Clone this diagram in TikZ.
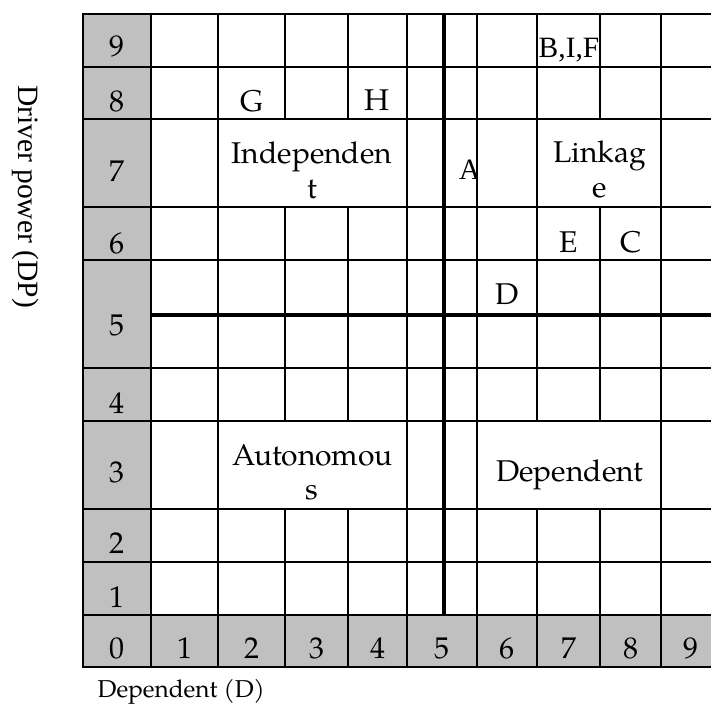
\documentclass[tikz,border=0pt]{standalone}
\usepackage{fontspec}
\newfontfamily\timesf{Liberation Serif}
\newfontfamily\palf{texgyrepagella}[Extension=.otf, UprightFont=*-regular]
\definecolor{cellgray}{RGB}{192,192,192}
\tikzset{
  gridline/.style={line width=2pt, line cap=rect},
  boldline/.style={line width=3.8pt},
  txt/.style={font=\palf\fontsize{30}{35}\selectfont, inner sep=0pt, anchor=base},
  tms/.style={font=\timesf\fontsize{29.5}{34}\selectfont, inner sep=0pt, anchor=base},
  axislabel/.style={inner sep=0pt, anchor=base}
}
\begin{document}
\begin{tikzpicture}[x=1pt,y=-1pt]
\useasboundingbox (0,0) rectangle (711,711);
\clip (0,0) rectangle (711,711);
% gray header cells
\fill[cellgray] (83.3,14) rectangle (151,666.7);
\fill[cellgray] (83.3,615) rectangle (720,666.7);
% row numbers
\foreach \n/\y in {9/56.5,8/112,7/182,6/253,5/335,4/413,3/482,2/553,1/607}
  \node[txt] (r\n) at (117,\y) {\n};
% column numbers
\foreach \n/\x in {0/117,1/184.5,2/251.5,3/316.5,4/377.5,5/442,6/507,7/568.5,8/630.5,9/690.5}
  \node[txt] (c\n) at (\x,658) {\n};
% cell texts
\node[tms, anchor=base west] (bif) at (538.5,58) {B,I,F};
\node[txt] (g) at (251.5,112) {G};
\node[txt] (h) at (377,111) {H};
\node[txt] (ind1) at (312,163.3) {Independen};
\node[txt] (ind2) at (312,199) {t};
\begin{scope}
  \clip (444,119) rectangle (476.5,207.3);
  \node[tms, anchor=base west] (a) at (459,180) {A};
\end{scope}
\node[txt] (lnk1) at (599.5,163) {Linkag};
\node[txt] (lnk2) at (600,198) {e};
\node[txt] (e) at (569,252) {E};
\node[txt] (c) at (631,252) {C};
\node[txt] (d) at (507.5,304) {D};
\node[txt] (aut1) at (312.5,465) {Autonomou};
\node[txt] (aut2) at (312,499) {s};
\node[txt] (dep) at (570,481.7) {Dependent};
% axis labels
\node[axislabel, font=\timesf\fontsize{29.5}{34}\selectfont, rotate=-90] (dp) at (18.5,196.5) {Driver power (DP)};
\node[axislabel, anchor=base west, font=\palf\fontsize{24.4}{29}\selectfont] (dd) at (97.5,697) {Dependent (D)};
% grid lines
\foreach \y in {14,66.7,119,207.3,260,367.7,421,508.7,561.7,615,666.7}
  \draw[gridline] (83.3,\y) -- (720,\y);
\foreach \x in {83.3,151,218.3,407,477,661,720}
  \draw[gridline] (\x,14) -- (\x,666.7);
\foreach \x in {285,347.7,600}
  \draw[gridline] (\x,14) -- (\x,119) (\x,207.3) -- (\x,421) (\x,508.7) -- (\x,666.7);
\draw[gridline] (537,14) -- (537,421) (537,508.7) -- (537,666.7);
\draw[boldline] (151,314.7) -- (720,314.7);
\draw[boldline] (444,14) -- (444,615);
\end{tikzpicture}
\end{document}
